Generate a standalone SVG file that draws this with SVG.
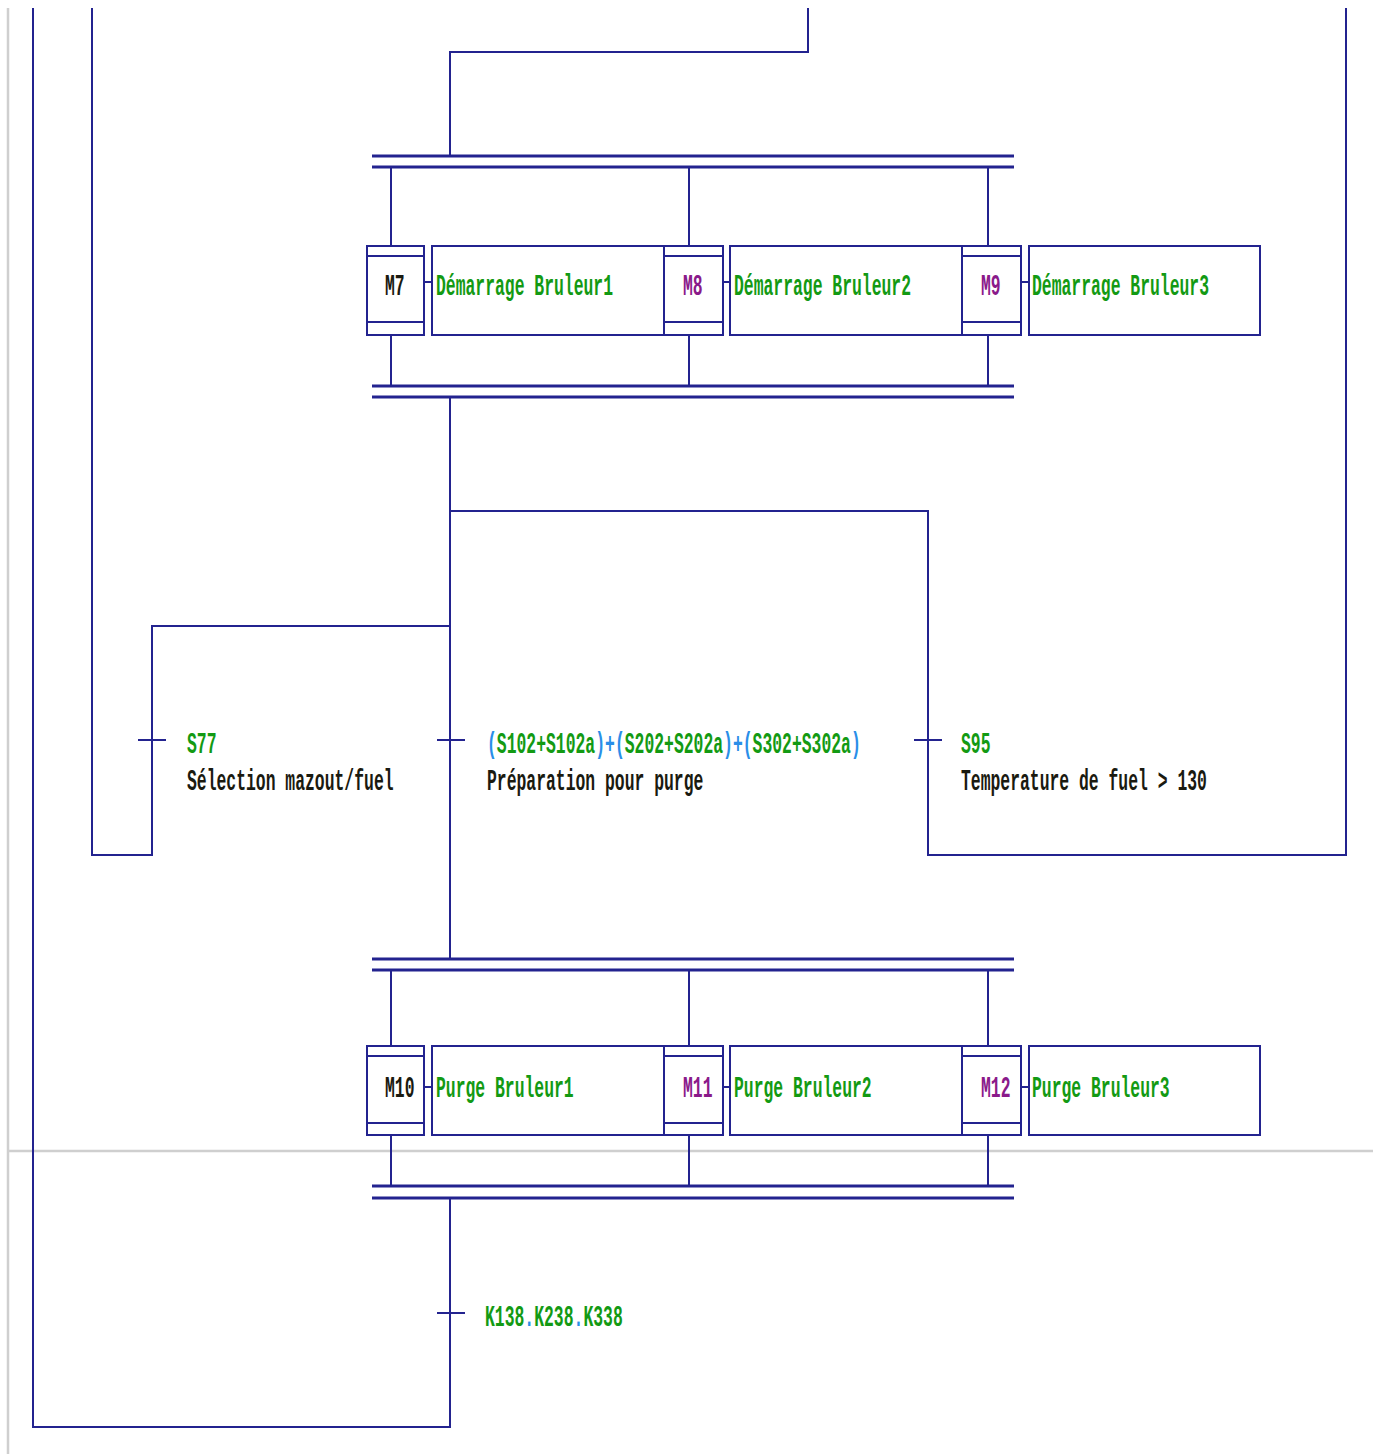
<svg xmlns="http://www.w3.org/2000/svg" width="1373" height="1454" viewBox="0 0 1373 1454">
  <style>
    .ln { fill: none; stroke: #23238f; stroke-width: 2; }
    .bar { fill: none; stroke: #23238f; stroke-width: 3; }
    .box { fill: #ffffff; stroke: #23238f; stroke-width: 2; }
    .grid { fill: none; stroke: #cfcfcf; stroke-width: 2.5; }
    text { font-family: "Liberation Mono", "DejaVu Sans Mono", monospace; font-size: 16.4px; font-weight: bold; }
    .grn { fill: #139a13; }
    .blu { fill: #2a8ee8; }
    .blk { fill: #1a1a10; }
    .pur { fill: #8a1a8a; }
  </style>

  <!-- page frame guides -->
  <g id="guides">
    <line class="grid" x1="8" y1="8" x2="8" y2="1454"/>
    <line class="grid" x1="8" y1="1151" x2="1373" y2="1151"/>
  </g>

  <!-- connectors -->
  <g id="connectors">
    <!-- top link into first parallel split -->
    <polyline class="ln" points="808,8 808,52 450,52 450,156"/>
    <!-- first split branches -->
    <line class="ln" x1="391" y1="167" x2="391" y2="246"/>
    <line class="ln" x1="689" y1="167" x2="689" y2="246"/>
    <line class="ln" x1="988" y1="167" x2="988" y2="246"/>
    <line class="ln" x1="391" y1="335" x2="391" y2="386"/>
    <line class="ln" x1="689" y1="335" x2="689" y2="386"/>
    <line class="ln" x1="988" y1="335" x2="988" y2="386"/>
    <!-- step-to-action ties -->
    <line class="ln" x1="424" y1="282" x2="432" y2="282"/>
    <line class="ln" x1="723" y1="282" x2="730" y2="282"/>
    <line class="ln" x1="1021" y1="282" x2="1029" y2="282"/>
    <!-- selection of sequences -->
    <line class="ln" x1="450" y1="397" x2="450" y2="959"/>
    <polyline class="ln" points="450,511 928,511 928,855 1346,855 1346,8"/>
    <polyline class="ln" points="450,626 152,626 152,855 92,855 92,8"/>
    <!-- transition marks -->
    <line class="ln" x1="138" y1="740" x2="166" y2="740"/>
    <line class="ln" x1="437" y1="740" x2="465" y2="740"/>
    <line class="ln" x1="914" y1="740" x2="942" y2="740"/>
    <!-- second split branches -->
    <line class="ln" x1="391" y1="970" x2="391" y2="1046"/>
    <line class="ln" x1="689" y1="970" x2="689" y2="1046"/>
    <line class="ln" x1="988" y1="970" x2="988" y2="1046"/>
    <line class="ln" x1="391" y1="1135" x2="391" y2="1186"/>
    <line class="ln" x1="689" y1="1135" x2="689" y2="1186"/>
    <line class="ln" x1="988" y1="1135" x2="988" y2="1186"/>
    <line class="ln" x1="424" y1="1087" x2="432" y2="1087"/>
    <line class="ln" x1="723" y1="1087" x2="730" y2="1087"/>
    <line class="ln" x1="1021" y1="1087" x2="1029" y2="1087"/>
    <!-- return loop -->
    <polyline class="ln" points="450,1198 450,1427 33,1427 33,8"/>
    <line class="ln" x1="437" y1="1313" x2="465" y2="1313"/>
    <!-- parallel bars -->
    <line class="bar" x1="372" y1="156" x2="1014" y2="156"/>
    <line class="bar" x1="372" y1="167" x2="1014" y2="167"/>
    <line class="bar" x1="372" y1="386" x2="1014" y2="386"/>
    <line class="bar" x1="372" y1="397" x2="1014" y2="397"/>
    <line class="bar" x1="372" y1="959" x2="1014" y2="959"/>
    <line class="bar" x1="372" y1="970" x2="1014" y2="970"/>
    <line class="bar" x1="372" y1="1186" x2="1014" y2="1186"/>
    <line class="bar" x1="372" y1="1198" x2="1014" y2="1198"/>
  </g>

  <!-- text is drawn tall and narrow: each label is stretched 1.75x about its baseline -->

  <!-- actions (first row) -->
  <g id="A7"><rect class="box" x="432" y="246" width="232" height="89"/>
    <text class="grn" x="436" y="295" transform="matrix(1 0 0 1.75 0 -221.25)">Démarrage Bruleur1</text></g>
  <g id="A8"><rect class="box" x="730" y="246" width="232" height="89"/>
    <text class="grn" x="734" y="295" transform="matrix(1 0 0 1.75 0 -221.25)">Démarrage Bruleur2</text></g>
  <g id="A9"><rect class="box" x="1029" y="246" width="231" height="89"/>
    <text class="grn" x="1032" y="295" transform="matrix(1 0 0 1.75 0 -221.25)">Démarrage Bruleur3</text></g>

  <!-- steps (first row) -->
  <g id="M7"><rect class="box" x="367" y="246" width="57" height="89"/>
    <line class="ln" x1="367" y1="256" x2="424" y2="256"/><line class="ln" x1="367" y1="322" x2="424" y2="322"/>
    <text class="blk" x="385" y="295" transform="matrix(1 0 0 1.75 0 -221.25)">M7</text></g>
  <g id="M8"><rect class="box" x="664" y="246" width="59" height="89"/>
    <line class="ln" x1="664" y1="256" x2="723" y2="256"/><line class="ln" x1="664" y1="322" x2="723" y2="322"/>
    <text class="pur" x="683" y="295" transform="matrix(1 0 0 1.75 0 -221.25)">M8</text></g>
  <g id="M9"><rect class="box" x="962" y="246" width="59" height="89"/>
    <line class="ln" x1="962" y1="256" x2="1021" y2="256"/><line class="ln" x1="962" y1="322" x2="1021" y2="322"/>
    <text class="pur" x="981" y="295" transform="matrix(1 0 0 1.75 0 -221.25)">M9</text></g>

  <!-- transitions of the selection -->
  <g id="T77">
    <text class="grn" x="187" y="753" transform="matrix(1 0 0 1.75 0 -564.75)">S77</text>
    <text class="blk" x="187" y="790" transform="matrix(1 0 0 1.75 0 -592.5)">Sélection mazout/fuel</text>
  </g>
  <g id="TPurge">
    <text x="487" y="753" transform="matrix(1 0 0 1.75 0 -564.75)"><tspan class="blu">(</tspan><tspan class="grn">S102+S102a</tspan><tspan class="blu">)+(</tspan><tspan class="grn">S202+S202a</tspan><tspan class="blu">)+(</tspan><tspan class="grn">S302+S302a</tspan><tspan class="blu">)</tspan></text>
    <text class="blk" x="487" y="790" transform="matrix(1 0 0 1.75 0 -592.5)">Préparation pour purge</text>
  </g>
  <g id="T95">
    <text class="grn" x="961" y="753" transform="matrix(1 0 0 1.75 0 -564.75)">S95</text>
    <text class="blk" x="961" y="790" transform="matrix(1 0 0 1.75 0 -592.5)">Temperature de fuel &gt; 130</text>
  </g>

  <!-- actions (second row) -->
  <g id="A10"><rect class="box" x="432" y="1046" width="232" height="89"/>
    <text class="grn" x="436" y="1097" transform="matrix(1 0 0 1.75 0 -822.75)">Purge Bruleur1</text></g>
  <g id="A11"><rect class="box" x="730" y="1046" width="232" height="89"/>
    <text class="grn" x="734" y="1097" transform="matrix(1 0 0 1.75 0 -822.75)">Purge Bruleur2</text></g>
  <g id="A12"><rect class="box" x="1029" y="1046" width="231" height="89"/>
    <text class="grn" x="1032" y="1097" transform="matrix(1 0 0 1.75 0 -822.75)">Purge Bruleur3</text></g>

  <!-- steps (second row) -->
  <g id="M10"><rect class="box" x="367" y="1046" width="57" height="89"/>
    <line class="ln" x1="367" y1="1056" x2="424" y2="1056"/><line class="ln" x1="367" y1="1123" x2="424" y2="1123"/>
    <text class="blk" x="385" y="1097" transform="matrix(1 0 0 1.75 0 -822.75)">M10</text></g>
  <g id="M11"><rect class="box" x="664" y="1046" width="59" height="89"/>
    <line class="ln" x1="664" y1="1056" x2="723" y2="1056"/><line class="ln" x1="664" y1="1123" x2="723" y2="1123"/>
    <text class="pur" x="683" y="1097" transform="matrix(1 0 0 1.75 0 -822.75)">M11</text></g>
  <g id="M12"><rect class="box" x="962" y="1046" width="59" height="89"/>
    <line class="ln" x1="962" y1="1056" x2="1021" y2="1056"/><line class="ln" x1="962" y1="1123" x2="1021" y2="1123"/>
    <text class="pur" x="981" y="1097" transform="matrix(1 0 0 1.75 0 -822.75)">M12</text></g>

  <!-- return transition -->
  <g id="TK">
    <text x="485" y="1326" transform="matrix(1 0 0 1.75 0 -994.5)"><tspan class="grn">K138</tspan><tspan class="blu">.</tspan><tspan class="grn">K238</tspan><tspan class="blu">.</tspan><tspan class="grn">K338</tspan></text>
  </g>
</svg>
